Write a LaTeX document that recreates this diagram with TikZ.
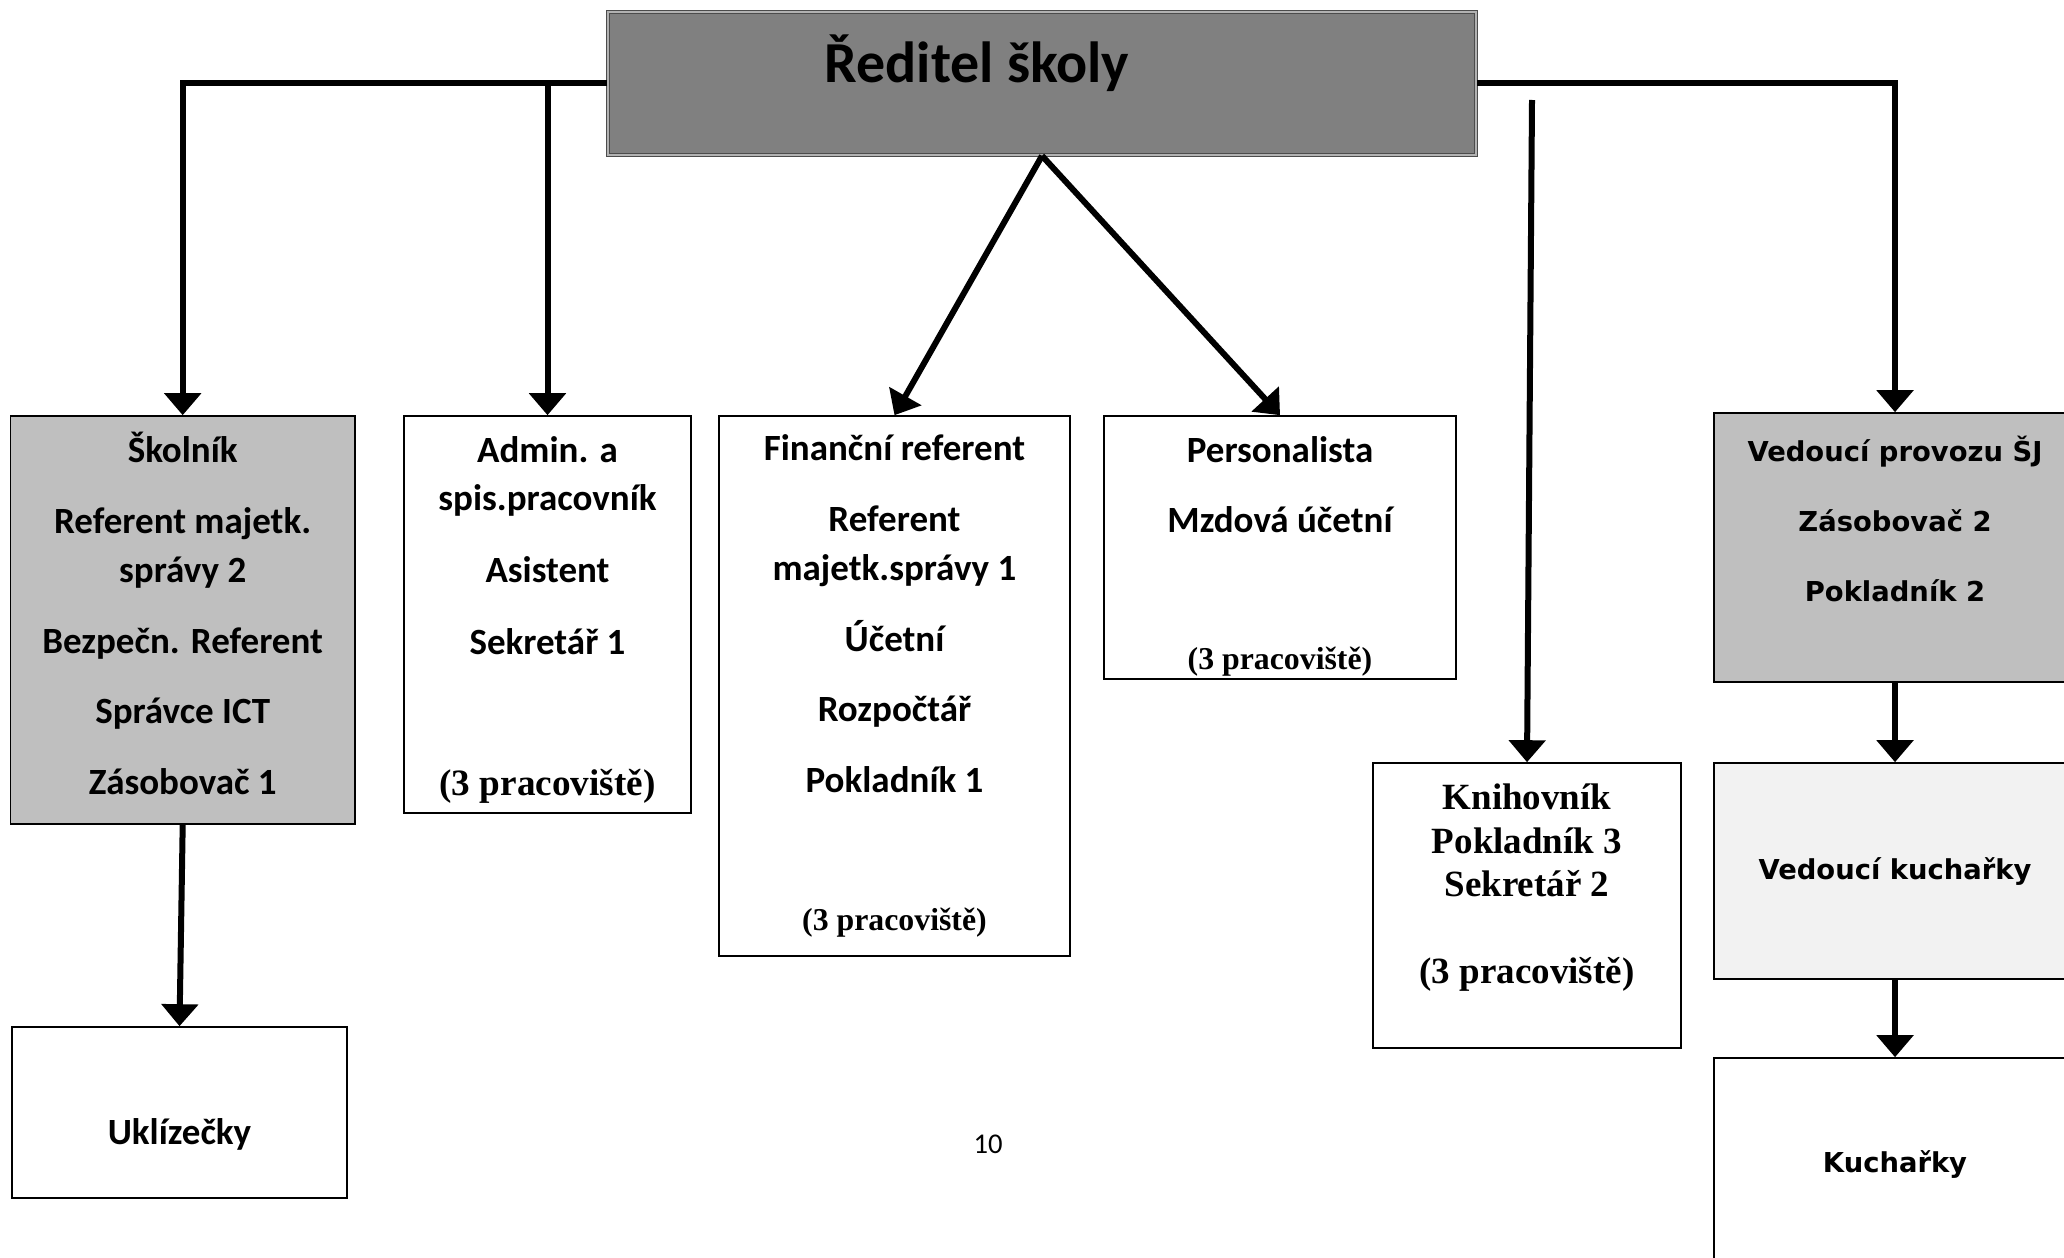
\documentclass[tikz,border=0pt]{standalone}
\usepackage{fontspec}
\setmainfont{Carlito}
\newfontfamily\timesfont{Liberation Serif}
\newfontfamily\verdfont{DejaVu Sans}
\usetikzlibrary{arrows.meta}

\newcommand{\prac}[1]{{\timesfont\bfseries\fontsize{#1}{#1}\selectfont (3 pracoviště)}}

\tikzset{
  box/.style={draw, line width=0.8pt, align=center, inner sep=0pt,
    font=\bfseries\fontsize{18.5}{24.4}\selectfont},
  verdbox/.style={box, font=\verdfont\bfseries\fontsize{13.7}{34.9}\selectfont},
  serifbox/.style={box, font=\timesfont\bfseries\fontsize{18.5}{21.7}\selectfont},
  boss/.style={draw=black!70, double=black!30, double distance=0.8pt, fill=gray},
  arr/.style={->, line width=3pt}
}

\begin{document}
\begin{tikzpicture}[x=0.5pt, y=-0.5pt, >={Triangle[width=18pt,length=11pt]}]

  \useasboundingbox (0,0) rectangle (2064,1257);

  % vedeni skoly
  \node[box, boss, minimum width=434pt, minimum height=71.5pt,
    label={[font=\bfseries\fontsize{29}{35}\selectfont, xshift=-32.5pt, yshift=10pt]center:Ředitel školy}]
    (reditel) at (1042,83.5) {};

  % prvni rada
  \node[box, fill=black!25, minimum width=172.2pt, minimum height=204pt] (skolnik) at (182.7,620)
    {Školník\\[11pt] Referent majetk.\\ správy 2\\[11pt] Bezpečn. Referent\\[11pt] Správce ICT\\[11pt] Zásobovač 1\\[-17.8pt]\mbox{}};
  \node[box, minimum width=143.5pt, minimum height=198.5pt] (admin) at (547.5,614.5)
    {Admin. a\\ spis.pracovník\\[11.5pt] Asistent\\[11.5pt] Sekretář 1\\[46pt] \prac{18.6}\\[-25.6pt]\mbox{}};
  \node[box, minimum width=175.5pt, minimum height=270pt] (financni) at (894.5,686)
    {Finanční referent\\[11pt] Referent\\ majetk.správy 1\\[11pt] Účetní\\[11pt] Rozpočtář\\[11pt] Pokladník 1\\[44.6pt] \prac{15.9}};
  \node[box, minimum width=176pt, minimum height=131.5pt] (personal) at (1280,547.5)
    {Personalista\\[10.5pt] Mzdová účetní\\[44pt] \prac{15.9}\\[-30pt]\mbox{}};
  \node[verdbox, fill=black!25, minimum width=181pt, minimum height=134.5pt] (provoz) at (1895,547.5)
    {Vedoucí provozu ŠJ\\ Zásobovač 2\\ Pokladník 2\\[-6pt]\mbox{}};

  % druha rada
  \node[serifbox, minimum width=154pt, minimum height=142.5pt] (knihovnik) at (1527,905.5)
    {Knihovník\\ Pokladník 3\\ Sekretář 2\\[21.7pt] (3 pracoviště)\\ \mbox{}};
  \node[verdbox, fill=black!5, minimum width=181pt, minimum height=108pt] (vedkuch) at (1895,871)
    {Vedoucí kuchařky};
  \node[verdbox, minimum width=181pt, minimum height=106pt] (kucharky) at (1895,1164)
    {Kuchařky};
  \node[box, minimum width=167.5pt, minimum height=85.5pt, text height=32pt, text depth=0pt] (uklizecky) at (179.5,1112.5)
    {Uklízečky};

  \node[font=\fontsize{14.3}{17}\selectfont] (strana) at (988,1144) {10};

  % sipky
  \draw[arr] (reditel.west) -| (skolnik.north);
  \draw[arr] (admin.north |- reditel.west) -- (admin.north);
  \draw[arr] (reditel.east) -| (provoz.north);
  \coordinate (knih0) at (1532,100);
  \draw[arr] (knih0) -- (knihovnik.north);
  \foreach \a/\b in {reditel.south/financni.north, reditel.south/personal.north,
      skolnik.south/uklizecky.north, provoz.south/vedkuch.north, vedkuch.south/kucharky.north} {
    \draw[arr] (\a) -- (\b);
  }

\end{tikzpicture}
\end{document}
